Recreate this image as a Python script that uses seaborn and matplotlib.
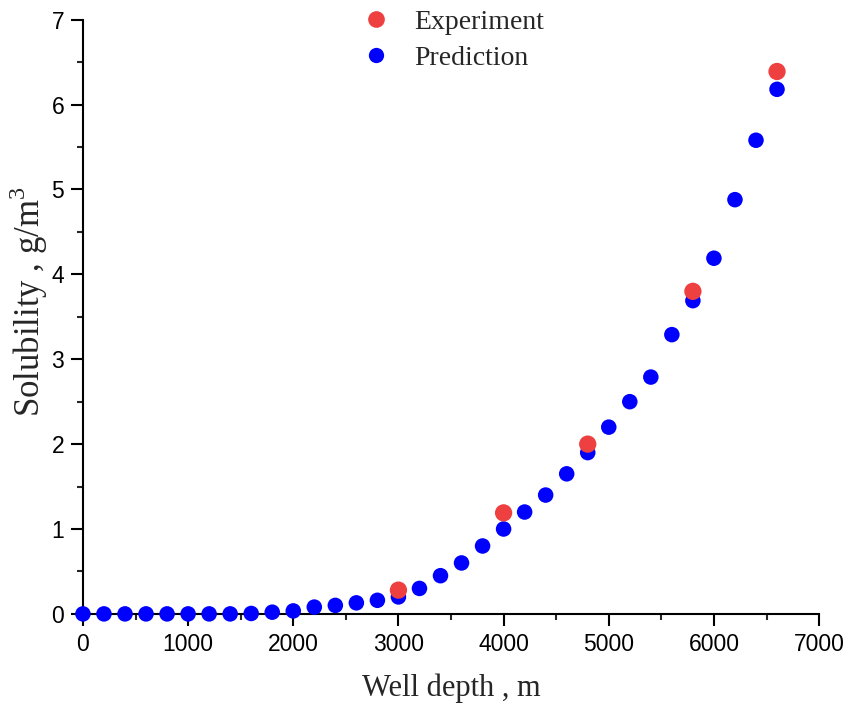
import numpy as np
import pandas as pd
import matplotlib
matplotlib.use("Agg")
import matplotlib.pyplot as plt
import seaborn as sns
from matplotlib.ticker import MultipleLocator
from matplotlib.lines import Line2D

# Data
pred_depth = [0, 200, 400, 600, 800, 1000, 1200, 1400, 1600, 1800, 2000,
              2200, 2400, 2600, 2800, 3000, 3200, 3400, 3600, 3800, 4000,
              4200, 4400, 4600, 4800, 5000, 5200, 5400, 5600, 5800, 6000,
              6200, 6400, 6600]
pred_sol = [0.0, 0.0, 0.0, 0.0, 0.0, 0.0, 0.0, 0.0, 0.005, 0.02, 0.035,
            0.08, 0.10, 0.13, 0.16, 0.20, 0.30, 0.45, 0.60, 0.80, 1.00,
            1.20, 1.40, 1.65, 1.90, 2.20, 2.50, 2.79, 3.29, 3.69, 4.19,
            4.88, 5.58, 6.18]
exp_depth = [3000, 4000, 4800, 5800, 6600]
exp_sol = [0.28, 1.19, 2.00, 3.80, 6.39]

sns.set_style("ticks")
plt.rcParams['font.family'] = ['Liberation Serif', 'DejaVu Serif']
plt.rcParams['mathtext.fontset'] = 'custom'
plt.rcParams['mathtext.rm'] = 'Liberation Serif'

fig = plt.figure(figsize=(8.55, 7.04), dpi=100)
ax = fig.add_axes([0.097, 0.128, 0.861, 0.844])

pred_df = pd.DataFrame({"depth": pred_depth, "sol": pred_sol})
exp_df = pd.DataFrame({"depth": exp_depth, "sol": exp_sol})

blue = "#0000FF"
red = "#EE4040"

sns.scatterplot(data=pred_df, x="depth", y="sol", ax=ax, color=blue, s=125,
                edgecolor="none", clip_on=False, zorder=3)
sns.scatterplot(data=exp_df, x="depth", y="sol", ax=ax, color=red, s=155,
                edgecolor="none", clip_on=False, zorder=4)

ax.set_xlim(0, 7000)
ax.set_ylim(0, 7)
ax.xaxis.set_major_locator(MultipleLocator(1000))
ax.xaxis.set_minor_locator(MultipleLocator(500))
ax.yaxis.set_major_locator(MultipleLocator(1))
ax.yaxis.set_minor_locator(MultipleLocator(0.5))

for s in ["top", "right"]:
    ax.spines[s].set_visible(False)
for s in ["left", "bottom"]:
    ax.spines[s].set_linewidth(1.5)
    ax.spines[s].set_color("black")

ax.tick_params(which="major", direction="out", length=8.5, width=1.5,
               labelsize=16.5, pad=5, colors="black")
ax.tick_params(which="minor", direction="out", length=4.3, width=1.5)
for lab in ax.get_xticklabels() + ax.get_yticklabels():
    lab.set_fontfamily(["Liberation Sans", "DejaVu Sans"])

ax.set_xlabel("Well depth , m", fontsize=22, labelpad=13)
ax.set_ylabel(r"Solubility , g/m$^{\mathrm{3}}$", fontsize=25)
ax.yaxis.set_label_coords(-0.045, 0.525)

handles = [Line2D([], [], linestyle="none", marker="o", markersize=12,
                  markerfacecolor=red, markeredgecolor="none"),
           Line2D([], [], linestyle="none", marker="o", markersize=11,
                  markerfacecolor=blue, markeredgecolor="none")]
ax.legend(handles, ["Experiment", "Prediction"], loc="upper left",
          bbox_to_anchor=(0.345, 1.06), frameon=False, fontsize=20,
          handletextpad=0.9, labelspacing=0.38, handlelength=1.0)

fig.savefig("out.png", dpi=100)
